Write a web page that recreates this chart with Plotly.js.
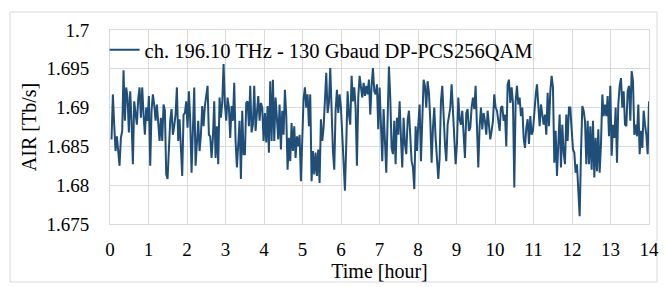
<!DOCTYPE html>
<html>
<head>
<meta charset="utf-8">
<script src="https://cdn.plot.ly/plotly-3.0.1.min.js"></script>
<style>
html,body{margin:0;padding:0;background:#fff;}
#chart{width:666px;height:287px;}
</style>
</head>
<body>
<div id="chart"></div>
<script>
// AIR [Tb/s], in time order (≈2.08 min sampling)
const airHours0to3 = [1.6859,1.6917,1.6878,1.6844,1.6863,1.6842,1.6825,1.6861,1.6870,1.6948,1.6883,1.6926,1.6913,1.6868,1.6921,1.6883,1.6827,1.6908,1.6896,1.6878,1.6911,1.6926,1.6887,1.6926,1.6891,1.6865,1.6900,1.6883,1.6915,1.6825,1.6896,1.6917,1.6904,1.6883,1.6904,1.6876,1.6857,1.6887,1.6857,1.6904,1.6896,1.6814,1.6808,1.6846,1.6883,1.6898,1.6865,1.6876,1.6891,1.6926,1.6857,1.6885,1.6840,1.6812,1.6891,1.6893,1.6908,1.6874,1.6921,1.6883,1.6816,1.6861,1.6926,1.6825,1.6865,1.6883,1.6844,1.6865,1.6902,1.6876,1.6902,1.6913,1.6928,1.6865,1.6863,1.6835,1.6861,1.6908,1.6835,1.6876,1.6827,1.6913,1.6887,1.6906,1.6956,1.6904,1.6883,1.6913,1.6900,1.6861,1.6902,1.6883,1.6932,1.6857,1.6823,1.6853,1.6883,1.6808,1.6896,1.6840];
const airHours3to7 = [1.6840,1.6906,1.6908,1.6876,1.6928,1.6868,1.6878,1.6928,1.6870,1.6893,1.6915,1.6883,1.6906,1.6900,1.6857,1.6893,1.6855,1.6902,1.6842,1.6934,1.6857,1.6936,1.6857,1.6913,1.6883,1.6859,1.6904,1.6846,1.6896,1.6865,1.6923,1.6891,1.6820,1.6861,1.6831,1.6880,1.6844,1.6876,1.6835,1.6863,1.6850,1.6865,1.6805,1.6857,1.6911,1.6926,1.6900,1.6917,1.6876,1.6917,1.6805,1.6844,1.6814,1.6842,1.6812,1.6846,1.6803,1.6885,1.6857,1.6874,1.6913,1.6945,1.6893,1.6906,1.6951,1.6896,1.6844,1.6820,1.6896,1.6923,1.6893,1.6917,1.6900,1.6865,1.6820,1.6793,1.6853,1.6921,1.6891,1.6878,1.6941,1.6908,1.6926,1.6900,1.6825,1.6913,1.6941,1.6930,1.6913,1.6932,1.6915,1.6928,1.6917,1.6936,1.6891,1.6928,1.6951,1.6921,1.6917,1.6930,1.6872];
const airHours7to10 = [1.6926,1.6874,1.6831,1.6898,1.6861,1.6816,1.6883,1.6953,1.6913,1.6848,1.6840,1.6883,1.6827,1.6887,1.6865,1.6908,1.6861,1.6823,1.6887,1.6853,1.6840,1.6883,1.6896,1.6857,1.6831,1.6823,1.6795,1.6876,1.6844,1.6878,1.6904,1.6831,1.6874,1.6936,1.6928,1.6900,1.6934,1.6919,1.6883,1.6829,1.6874,1.6900,1.6861,1.6835,1.6808,1.6835,1.6908,1.6928,1.6883,1.6853,1.6831,1.6878,1.6889,1.6900,1.6930,1.6893,1.6868,1.6827,1.6853,1.6913,1.6885,1.6878,1.6896,1.6865,1.6835,1.6893,1.6898,1.6870,1.6874,1.6900,1.6913,1.6898,1.6928,1.6876,1.6823,1.6876,1.6900,1.6872,1.6893,1.6883,1.6865,1.6896,1.6876,1.6859,1.6870,1.6883,1.6917,1.6900,1.6896,1.6878,1.6870,1.6900,1.6902,1.6883,1.6891,1.6850,1.6930,1.6936,1.6906,1.6926,1.6906,1.6797];
const airHours10to14 = [1.6908,1.6928,1.6904,1.6913,1.6889,1.6900,1.6861,1.6848,1.6874,1.6885,1.6853,1.6889,1.6865,1.6870,1.6900,1.6915,1.6930,1.6900,1.6876,1.6904,1.6893,1.6878,1.6891,1.6865,1.6919,1.6876,1.6921,1.6941,1.6926,1.6829,1.6870,1.6812,1.6853,1.6891,1.6823,1.6878,1.6842,1.6827,1.6891,1.6857,1.6900,1.6900,1.6872,1.6846,1.6842,1.6816,1.6827,1.6797,1.6760,1.6840,1.6902,1.6896,1.6883,1.6827,1.6883,1.6827,1.6876,1.6820,1.6883,1.6810,1.6861,1.6818,1.6872,1.6816,1.6853,1.6917,1.6889,1.6904,1.6889,1.6915,1.6863,1.6928,1.6838,1.6878,1.6861,1.6900,1.6829,1.6904,1.6928,1.6938,1.6900,1.6921,1.6878,1.6876,1.6921,1.6928,1.6883,1.6947,1.6934,1.6865,1.6878,1.6863,1.6904,1.6840,1.6870,1.6848,1.6896,1.6878,1.6865,1.6840,1.6908];

const seriesName = "ch. 196.10 THz - 130 Gbaud DP-PCS256QAM";
const firstSampleHour = 0.04;
const sampleStepHour = 0.03464;

const xTickVals = [0,1,2,3,4,5,6,7,8,9,10,11,12,13,14];
const xTickText = ["0","1","2","3","4","5","6","7","8","9","10","11","12","13","14"];
const yTickVals = [1.675,1.68,1.685,1.69,1.695,1.7];
const yTickText = ["1.675","1.68","1.685","1.69","1.695","1.7"];

const air = [].concat(airHours0to3, airHours3to7, airHours7to10, airHours10to14);
const timeHours = air.map((_, i) => firstSampleHour + i * sampleStepHour);

const fam = "Liberation Serif";
const tickFont = {family: fam, size: 19, color: "#000"};
const titleFont = {family: fam, size: 20, color: "#000"};
const legendFont = {family: fam, size: 20.5, color: "#000"};

const trace = {
  x: timeHours, y: air, type: "scatter", mode: "lines", name: seriesName,
  line: {color: "#1F4E79", width: 2}
};

const layout = {
  width: 666, height: 287,
  margin: {l: 110, r: 17, t: 30, b: 63},
  paper_bgcolor: "#fff", plot_bgcolor: "#fff",
  font: tickFont,
  showlegend: true,
  legend: {x: -0.01, y: 1.0, xanchor: "left", yanchor: "top", bgcolor: "rgba(0,0,0,0)", font: legendFont, itemwidth: 30, tracegroupgap: 0},
  xaxis: {
    range: [0, 14], tickvals: xTickVals, ticktext: xTickText,
    showgrid: true, gridcolor: "#d9d9d9", gridwidth: 1,
    showline: true, linecolor: "#d9d9d9", linewidth: 1, mirror: true,
    zeroline: false, ticks: "", ticklabelstandoff: 8,
    tickfont: tickFont,
    title: {text: "Time [hour]", font: titleFont, standoff: 3}
  },
  yaxis: {
    range: [1.675, 1.7], tickvals: yTickVals, ticktext: yTickText,
    showgrid: true, gridcolor: "#d9d9d9", gridwidth: 1,
    showline: true, linecolor: "#d9d9d9", linewidth: 1, mirror: true,
    zeroline: false, ticks: "", ticklabelstandoff: 16,
    tickfont: tickFont,
    title: {text: "AIR [Tb/s]", font: titleFont, standoff: 4}
  },
  shapes: [{
    type: "rect", xref: "paper", yref: "paper",
    x0: -0.1855, x1: 1.0148, y0: -0.299, y1: 1.0928,
    line: {color: "#d9d9d9", width: 1}, fillcolor: "rgba(0,0,0,0)", layer: "below"
  }]
};

Plotly.newPlot("chart", [trace], layout, {displayModeBar: false, staticPlot: true});
</script>
</body>
</html>
